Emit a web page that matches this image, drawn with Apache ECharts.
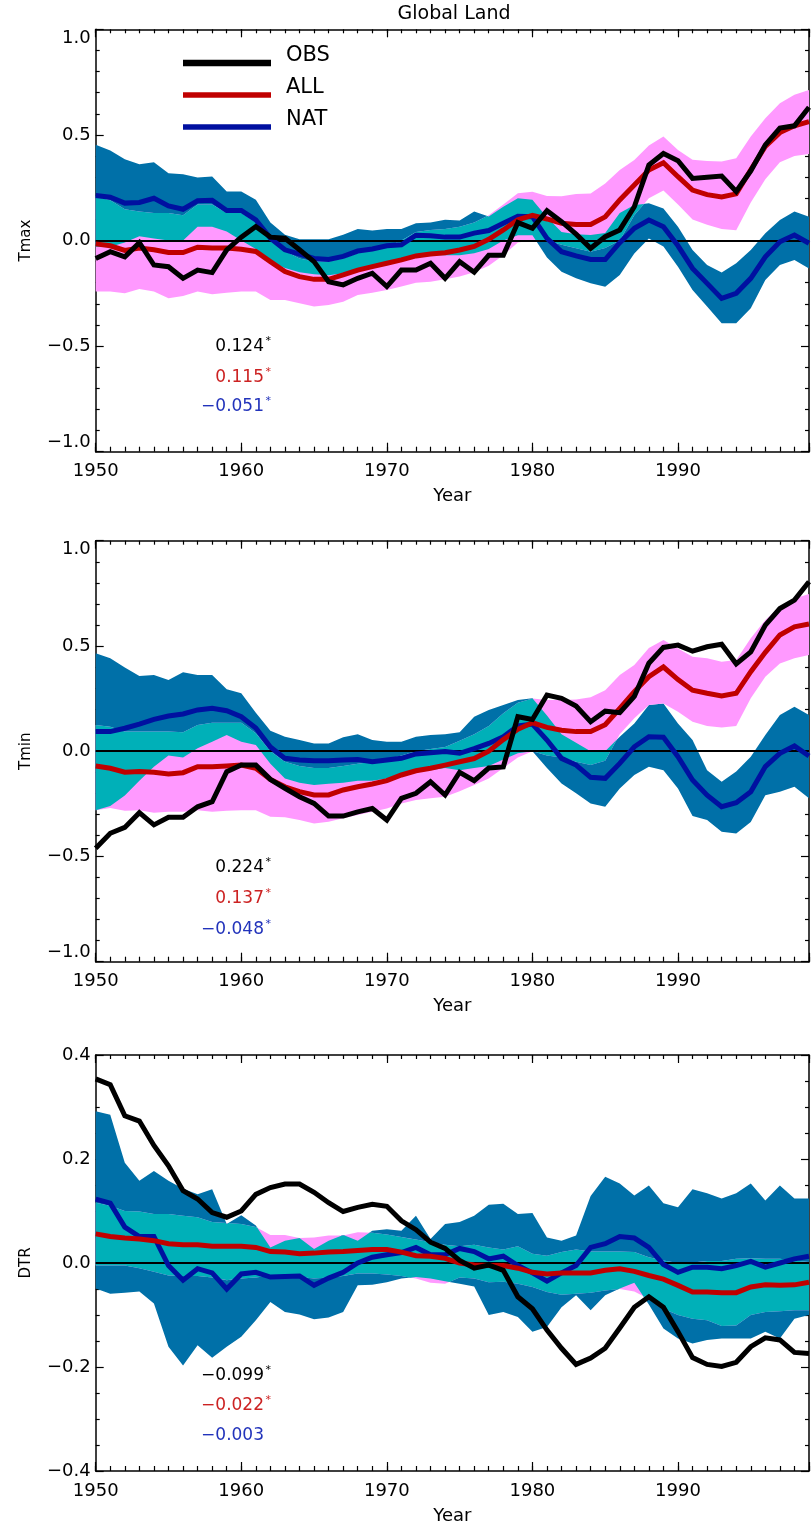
<!DOCTYPE html>
<html>
<head>
<meta charset="utf-8">
<script src="https://cdn.jsdelivr.net/npm/echarts@6/dist/echarts.min.js"></script>
<style>
  html, body { margin: 0; padding: 0; background: #ffffff; }
  #chart { width: 812px; height: 1526px; }
</style>
</head>
<body>
<div id="chart"></div>
<script>
// ---- data: global land anomalies, 1950-1999 ----
const years = [1950,1951,1952,1953,1954,1955,1956,1957,1958,1959,
               1960,1961,1962,1963,1964,1965,1966,1967,1968,1969,
               1970,1971,1972,1973,1974,1975,1976,1977,1978,1979,
               1980,1981,1982,1983,1984,1985,1986,1987,1988,1989,
               1990,1991,1992,1993,1994,1995,1996,1997,1998,1999];

// Tmax
const tmaxObs = [-0.085,-0.053,-0.077,-0.010,-0.116,-0.124,-0.179,-0.140,-0.152,-0.044,
                 0.016,0.066,0.016,0.011,-0.044,-0.100,-0.195,-0.210,-0.179,-0.155,
                 -0.218,-0.140,-0.140,-0.108,-0.179,-0.100,-0.150,-0.070,-0.070,0.085,
                 0.058,0.141,0.089,0.030,-0.037,0.018,0.050,0.160,0.357,0.412,
                 0.378,0.294,0.299,0.305,0.232,0.330,0.453,0.532,0.543,0.631];
const tmaxAll = [-0.016,-0.025,-0.047,-0.036,-0.044,-0.057,-0.057,-0.032,-0.036,-0.036,
                 -0.041,-0.052,-0.100,-0.147,-0.171,-0.184,-0.184,-0.163,-0.140,-0.124,
                 -0.108,-0.092,-0.073,-0.064,-0.058,-0.045,-0.028,0.006,0.050,0.098,
                 0.119,0.102,0.082,0.076,0.076,0.112,0.192,0.263,0.334,0.368,
                 0.302,0.239,0.217,0.206,0.221,0.335,0.445,0.511,0.543,0.563];
const tmaxNat = [0.213,0.205,0.177,0.180,0.200,0.164,0.148,0.188,0.190,0.142,
                 0.142,0.098,0.011,-0.044,-0.065,-0.085,-0.090,-0.075,-0.050,-0.040,
                 -0.025,-0.020,0.025,0.022,0.016,0.016,0.035,0.047,0.082,0.115,
                 0.113,0.010,-0.053,-0.073,-0.090,-0.090,-0.010,0.058,0.097,0.065,
                 -0.025,-0.132,-0.203,-0.274,-0.250,-0.179,-0.077,-0.006,0.026,-0.013];
const tmaxAllLo = [-0.242,-0.242,-0.250,-0.230,-0.242,-0.274,-0.263,-0.242,-0.255,-0.247,
                   -0.242,-0.242,-0.282,-0.282,-0.297,-0.313,-0.305,-0.290,-0.258,-0.247,
                   -0.234,-0.218,-0.200,-0.195,-0.184,-0.170,-0.150,-0.120,-0.070,-0.010,
                   0.000,0.000,-0.020,-0.037,-0.053,-0.035,0.000,0.120,0.200,0.237,
                   0.170,0.100,0.075,0.055,0.048,0.180,0.290,0.370,0.400,0.410];
const tmaxAllHi = [0.208,0.190,0.148,0.137,0.130,0.130,0.120,0.170,0.170,0.130,
                   0.130,0.085,0.020,-0.050,-0.085,-0.100,-0.100,-0.085,-0.060,-0.045,
                   -0.030,0.000,0.040,0.050,0.055,0.065,0.085,0.120,0.170,0.224,
                   0.231,0.211,0.210,0.220,0.223,0.270,0.334,0.381,0.450,0.492,
                   0.429,0.382,0.377,0.374,0.390,0.492,0.579,0.650,0.690,0.713];
const tmaxNatLo = [-0.030,-0.030,-0.010,0.020,0.010,0.000,0.000,0.065,0.065,0.043,
                   0.000,-0.040,-0.100,-0.130,-0.150,-0.160,-0.165,-0.155,-0.135,-0.120,
                   -0.110,-0.100,-0.080,-0.070,-0.070,-0.070,-0.060,-0.040,0.000,0.025,
                   0.025,-0.080,-0.148,-0.179,-0.203,-0.219,-0.163,-0.061,0.010,-0.029,
                   -0.124,-0.234,-0.313,-0.392,-0.392,-0.321,-0.187,-0.116,-0.092,-0.132];
const tmaxNatHi = [0.453,0.426,0.385,0.361,0.371,0.319,0.314,0.298,0.303,0.232,
                   0.232,0.193,0.085,0.027,0.006,0.006,0.006,0.027,0.054,0.047,
                   0.054,0.054,0.082,0.085,0.098,0.095,0.137,0.114,0.160,0.200,
                   0.193,0.110,0.040,0.030,0.026,0.035,0.130,0.168,0.176,0.152,
                   0.065,-0.045,-0.116,-0.152,-0.108,-0.045,0.034,0.097,0.137,0.113];

// Tmin
const tminObs = [-0.461,-0.390,-0.362,-0.292,-0.350,-0.314,-0.314,-0.264,-0.240,-0.097,
                 -0.066,-0.066,-0.134,-0.176,-0.216,-0.248,-0.308,-0.308,-0.288,-0.272,
                 -0.327,-0.224,-0.200,-0.145,-0.208,-0.100,-0.140,-0.080,-0.075,0.164,
                 0.151,0.267,0.251,0.215,0.140,0.190,0.183,0.260,0.418,0.493,
                 0.504,0.475,0.496,0.508,0.415,0.472,0.599,0.678,0.718,0.805];
const tminAll = [-0.070,-0.081,-0.100,-0.097,-0.100,-0.108,-0.102,-0.074,-0.074,-0.070,
                 -0.066,-0.081,-0.134,-0.169,-0.192,-0.208,-0.208,-0.184,-0.169,-0.156,
                 -0.140,-0.113,-0.093,-0.081,-0.066,-0.050,-0.035,0.000,0.055,0.104,
                 0.135,0.113,0.100,0.093,0.093,0.126,0.203,0.283,0.354,0.400,
                 0.340,0.290,0.275,0.263,0.275,0.378,0.470,0.552,0.591,0.604];
const tminNat = [0.093,0.093,0.109,0.129,0.151,0.167,0.177,0.196,0.204,0.192,
                 0.164,0.110,0.020,-0.034,-0.042,-0.045,-0.045,-0.042,-0.039,-0.050,
                 -0.042,-0.034,-0.013,-0.007,-0.002,-0.010,0.012,0.037,0.069,0.120,
                 0.129,0.053,-0.034,-0.066,-0.124,-0.129,-0.058,0.021,0.069,0.066,
                 -0.026,-0.137,-0.209,-0.264,-0.245,-0.193,-0.073,-0.010,0.025,-0.023];
const tminAllLo = [-0.280,-0.270,-0.283,-0.280,-0.292,-0.288,-0.288,-0.280,-0.288,-0.283,
                   -0.280,-0.280,-0.311,-0.314,-0.327,-0.343,-0.335,-0.319,-0.303,-0.288,
                   -0.272,-0.248,-0.232,-0.224,-0.216,-0.190,-0.160,-0.130,-0.080,-0.030,
                   0.000,-0.020,-0.030,-0.050,-0.065,-0.045,0.080,0.156,0.219,0.227,
                   0.188,0.140,0.120,0.113,0.120,0.251,0.354,0.417,0.441,0.457];
const tminAllHi = [0.124,0.116,0.093,0.093,0.093,0.093,0.090,0.124,0.135,0.135,
                   0.135,0.085,0.000,-0.050,-0.070,-0.080,-0.080,-0.070,-0.060,-0.050,
                   -0.040,-0.020,0.000,0.010,0.020,0.050,0.080,0.120,0.180,0.230,
                   0.250,0.243,0.243,0.246,0.256,0.290,0.362,0.410,0.490,0.528,
                   0.488,0.449,0.441,0.425,0.433,0.536,0.623,0.687,0.726,0.747];
const tminNatLo = [-0.280,-0.260,-0.210,-0.140,-0.074,-0.020,-0.030,0.014,0.045,0.077,
                   0.045,0.030,-0.060,-0.130,-0.150,-0.160,-0.155,-0.150,-0.140,-0.140,
                   -0.130,-0.120,-0.100,-0.090,-0.080,-0.090,-0.080,-0.070,-0.040,-0.010,
                   0.000,-0.080,-0.153,-0.200,-0.248,-0.264,-0.177,-0.113,-0.074,-0.090,
                   -0.177,-0.308,-0.327,-0.383,-0.391,-0.336,-0.209,-0.193,-0.169,-0.224];
const tminNatHi = [0.465,0.441,0.398,0.357,0.362,0.338,0.375,0.362,0.362,0.294,
                   0.275,0.183,0.097,0.069,0.053,0.037,0.037,0.066,0.080,0.053,
                   0.045,0.045,0.069,0.077,0.080,0.090,0.164,0.196,0.220,0.243,
                   0.251,0.170,0.080,0.040,0.000,0.000,0.069,0.132,0.219,0.227,
                   0.132,0.053,-0.090,-0.145,-0.097,-0.026,0.077,0.172,0.211,0.172];

// DTR
const dtrObs = [0.354,0.343,0.283,0.273,0.226,0.187,0.139,0.123,0.097,0.088,
                0.100,0.132,0.145,0.152,0.152,0.136,0.116,0.099,0.107,0.113,
                0.109,0.081,0.064,0.040,0.028,0.005,-0.010,-0.004,-0.014,-0.065,
                -0.088,-0.129,-0.164,-0.195,-0.183,-0.164,-0.125,-0.085,-0.065,-0.085,
                -0.132,-0.182,-0.195,-0.199,-0.191,-0.161,-0.144,-0.148,-0.172,-0.174];
const dtrAll = [0.056,0.051,0.048,0.046,0.043,0.037,0.035,0.035,0.032,0.032,
                0.032,0.030,0.022,0.021,0.018,0.019,0.021,0.022,0.024,0.026,
                0.026,0.021,0.014,0.013,0.009,0.000,-0.004,-0.005,-0.005,-0.010,
                -0.018,-0.021,-0.019,-0.019,-0.019,-0.014,-0.011,-0.016,-0.024,-0.031,
                -0.043,-0.056,-0.056,-0.057,-0.057,-0.046,-0.042,-0.043,-0.042,-0.037];
const dtrNat = [0.123,0.115,0.069,0.051,0.051,-0.005,-0.033,-0.011,-0.019,-0.050,
                -0.021,-0.018,-0.027,-0.026,-0.025,-0.043,-0.029,-0.018,0.000,0.011,
                0.016,0.020,0.030,0.016,0.016,0.028,0.022,0.008,0.013,-0.005,
                -0.019,-0.035,-0.019,-0.005,0.030,0.037,0.051,0.048,0.030,-0.003,
                -0.018,-0.008,-0.008,-0.011,-0.005,0.003,-0.008,0.000,0.008,0.013];
const dtrAllLo = [-0.005,-0.005,-0.005,-0.010,-0.017,-0.024,-0.025,-0.025,-0.028,-0.033,
                  -0.030,-0.028,-0.024,-0.024,-0.027,-0.030,-0.028,-0.025,-0.020,-0.020,
                  -0.022,-0.025,-0.030,-0.038,-0.040,-0.028,-0.030,-0.037,-0.036,-0.040,
                  -0.046,-0.056,-0.061,-0.059,-0.057,-0.053,-0.050,-0.055,-0.069,-0.088,
                  -0.100,-0.107,-0.110,-0.121,-0.120,-0.100,-0.094,-0.093,-0.091,-0.091];
const dtrAllHi = [0.116,0.110,0.100,0.099,0.094,0.094,0.091,0.088,0.079,0.077,
                  0.075,0.069,0.054,0.054,0.048,0.049,0.053,0.053,0.059,0.058,
                  0.055,0.050,0.045,0.040,0.035,0.032,0.035,0.030,0.026,0.032,
                  0.018,0.014,0.021,0.026,0.022,0.022,0.022,0.021,0.011,0.005,
                  0.000,0.001,0.004,0.004,0.008,0.009,0.008,0.008,0.005,0.002];
const dtrNatLo = [-0.049,-0.059,-0.057,-0.055,-0.078,-0.161,-0.197,-0.158,-0.182,-0.161,
                  -0.142,-0.110,-0.075,-0.094,-0.099,-0.108,-0.105,-0.094,-0.043,-0.042,
                  -0.037,-0.030,-0.027,-0.030,-0.035,-0.040,-0.045,-0.100,-0.094,-0.104,
                  -0.132,-0.123,-0.085,-0.062,-0.091,-0.062,-0.049,-0.038,-0.080,-0.126,
                  -0.145,-0.155,-0.148,-0.145,-0.145,-0.145,-0.132,-0.145,-0.107,-0.100];
const dtrNatHi = [0.292,0.285,0.193,0.158,0.177,0.158,0.143,0.132,0.142,0.075,
                  0.092,0.072,0.030,0.043,0.048,0.027,0.043,0.054,0.043,0.062,
                  0.065,0.062,0.091,0.046,0.075,0.079,0.091,0.112,0.114,0.094,
                  0.096,0.049,0.043,0.053,0.129,0.166,0.153,0.130,0.149,0.115,
                  0.107,0.142,0.134,0.124,0.134,0.153,0.120,0.149,0.124,0.124];

// trend values printed in each panel (OBS, ALL, NAT) and whether they are significant
const tmaxTrendText = ['0.124', '0.115', '\u22120.051'];
const tmaxTrendSig  = [true, true, true];
const tminTrendText = ['0.224', '0.137', '\u22120.048'];
const tminTrendSig  = [true, true, true];
const dtrTrendText  = ['\u22120.099', '\u22120.022', '\u22120.003'];
const dtrTrendSig   = [true, true, false];

const seriesNames = ['OBS', 'ALL', 'NAT'];

// ---- styling ----
const FONT = '"DejaVu Sans", sans-serif';
const LINE_COLORS = ['#000000', '#c00000', '#0010a0'];
const TEXT_COLORS = ['#000000', '#cc2222', '#2233bb'];
const NAT_BAND = '#0070a8';
const ALL_BAND = '#ff99ff';
const BOTH_BAND = '#00b0b8';

const panels = [
  { label: 'Tmax', obs: tmaxObs, all: tmaxAll, nat: tmaxNat,
    allLo: tmaxAllLo, allHi: tmaxAllHi, natLo: tmaxNatLo, natHi: tmaxNatHi,
    trendText: tmaxTrendText, trendSig: tmaxTrendSig,
    yMin: -1, yMax: 1, yStep: 0.5, ySplit: 5, endLabelsInside: true,
    top: 29.3, height: 422.4, trendY: [347, 377.7, 406.7] },
  { label: 'Tmin', obs: tminObs, all: tminAll, nat: tminNat,
    allLo: tminAllLo, allHi: tminAllHi, natLo: tminNatLo, natHi: tminNatHi,
    trendText: tminTrendText, trendSig: tminTrendSig,
    yMin: -1, yMax: 1, yStep: 0.5, ySplit: 5, endLabelsInside: true,
    top: 540.7, height: 421, trendY: [868, 899, 930] },
  { label: 'DTR', obs: dtrObs, all: dtrAll, nat: dtrNat,
    allLo: dtrAllLo, allHi: dtrAllHi, natLo: dtrNatLo, natHi: dtrNatHi,
    trendText: dtrTrendText, trendSig: dtrTrendSig,
    yMin: -0.4, yMax: 0.4, yStep: 0.2, ySplit: 4, endLabelsInside: false,
    top: 1055, height: 418.3, trendY: [1376, 1406, 1436] }
];

const pairs = arr => years.map((y, i) => [y, arr[i]]);
const fmtY = v => (Math.abs(v) < 1e-9 ? 0 : v).toFixed(1).replace('-', '\u2212');

// Outline of the region shared by two envelopes, split at every crossing
function sharedOutline(aLo, aHi, bLo, bHi) {
  const top = [], bottom = [];
  const edges = [aLo, aHi, bLo, bHi];
  const n = years.length;
  for (let i = 0; i < n; i++) {
    const ts = [0];
    if (i < n - 1) {
      for (let p = 0; p < 4; p++) {
        for (let q = p + 1; q < 4; q++) {
          const d0 = edges[p][i] - edges[q][i];
          const d1 = edges[p][i + 1] - edges[q][i + 1];
          if (d0 * d1 < 0) ts.push(d0 / (d0 - d1));
        }
      }
    }
    ts.sort((a, b) => a - b);
    for (const t of ts) {
      const at = arr => (i < n - 1 ? arr[i] + (arr[i + 1] - arr[i]) * t : arr[i]);
      const x = i < n - 1 ? years[i] + (years[i + 1] - years[i]) * t : years[i];
      const hi = Math.min(at(aHi), at(bHi));
      const lo = Math.max(at(aLo), at(bLo));
      top.push([x, hi]);
      bottom.push([x, Math.min(lo, hi)]);
    }
  }
  return { top, bottom };
}

function bandSeries(p, upper, lower, color, z) {
  return {
    type: 'custom', xAxisIndex: p * 4, yAxisIndex: p * 2,
    coordinateSystem: 'cartesian2d', silent: true, clip: true, z: z,
    data: [[years[0], 0]],
    renderItem: (params, api) => {
      const pts = upper.map(d => api.coord(d));
      for (let i = lower.length - 1; i >= 0; i--) pts.push(api.coord(lower[i]));
      return { type: 'polygon', shape: { points: pts }, style: { fill: color } };
    }
  };
}

const grids = [], xAxes = [], yAxes = [], series = [], graphics = [];

panels.forEach((pn, p) => {
  grids.push({ left: 95.7, right: 0.3, top: pn.top, height: pn.height, containLabel: false });

  const xBase = { gridIndex: p, type: 'value', min: 1950, max: 1999, splitLine: { show: false } };
  const tickStyle = { color: '#000', width: 1.2 };
  xAxes.push(Object.assign({}, xBase, {
    position: 'bottom', interval: 10,
    axisLine: { show: true, onZero: false, lineStyle: { color: '#000', width: 1.5 } },
    axisTick: { show: true, inside: true, length: 9, lineStyle: tickStyle },
    axisLabel: { show: true, margin: 11, color: '#000', fontSize: 18, fontFamily: FONT,
                 formatter: v => (v % 10 === 0 ? String(v) : '') },
    name: 'Year', nameLocation: 'middle', nameGap: 36,
    nameTextStyle: { color: '#000', fontSize: 18, fontFamily: FONT }
  }));
  xAxes.push(Object.assign({}, xBase, {
    position: 'bottom', interval: 1,
    axisLine: { show: false, onZero: false },
    axisTick: { show: true, inside: true, length: 5, lineStyle: tickStyle },
    axisLabel: { show: false }
  }));
  xAxes.push(Object.assign({}, xBase, {
    position: 'top', interval: 10,
    axisLine: { show: true, onZero: false, lineStyle: { color: '#000', width: 1.5 } },
    axisTick: { show: true, inside: true, length: 8, lineStyle: tickStyle },
    axisLabel: { show: false }
  }));
  xAxes.push(Object.assign({}, xBase, {
    position: 'top', interval: 1,
    axisLine: { show: false, onZero: false },
    axisTick: { show: true, inside: true, length: 4, lineStyle: tickStyle },
    axisLabel: { show: false }
  }));

  const yBase = { gridIndex: p, type: 'value', min: pn.yMin, max: pn.yMax, interval: pn.yStep,
                  splitLine: { show: false }, minorSplitLine: { show: false } };
  const yLabel = { show: true, margin: 5, color: '#000', fontSize: 18, fontFamily: FONT, formatter: fmtY };
  if (pn.endLabelsInside) {
    yLabel.verticalAlignMinLabel = 'bottom';
    yLabel.verticalAlignMaxLabel = 'top';
  }
  yAxes.push(Object.assign({}, yBase, {
    position: 'left',
    axisLine: { show: true, onZero: false, lineStyle: { color: '#000', width: 1.5 } },
    axisTick: { show: true, inside: true, length: 8, lineStyle: tickStyle },
    minorTick: { show: true, splitNumber: pn.ySplit, length: 4, lineStyle: tickStyle },
    axisLabel: yLabel,
    name: pn.label, nameLocation: 'middle', nameGap: 62, nameRotate: 90,
    nameTextStyle: { color: '#000', fontSize: 15, fontFamily: FONT }
  }));
  yAxes.push(Object.assign({}, yBase, {
    position: 'right',
    axisLine: { show: true, onZero: false, lineStyle: { color: '#000', width: 1.5 } },
    axisTick: { show: true, inside: true, length: 8, lineStyle: tickStyle },
    minorTick: { show: true, splitNumber: pn.ySplit, length: 4, lineStyle: tickStyle },
    axisLabel: { show: false }
  }));

  // envelopes: natural-only, all-forcing, and their overlap
  series.push(bandSeries(p, pairs(pn.natHi), pairs(pn.natLo), NAT_BAND, 1));
  series.push(bandSeries(p, pairs(pn.allHi), pairs(pn.allLo), ALL_BAND, 1));
  const shared = sharedOutline(pn.allLo, pn.allHi, pn.natLo, pn.natHi);
  const sharedBand = bandSeries(p, shared.top, shared.bottom, BOTH_BAND, 1);
  sharedBand.markLine = {
    silent: true, symbol: ['none', 'none'], z: 2, animation: false,
    label: { show: false },
    lineStyle: { color: '#000', width: 2, type: 'solid' },
    data: [{ yAxis: 0 }]
  };
  series.push(sharedBand);

  // model means and observations
  [pn.nat, pn.all, pn.obs].forEach((arr, k) => {
    const idx = 2 - k;
    series.push({
      type: 'line', name: seriesNames[idx], xAxisIndex: p * 4, yAxisIndex: p * 2,
      data: pairs(arr), showSymbol: false, symbol: 'none', z: 3 + k,
      lineStyle: { color: LINE_COLORS[idx], width: 5, join: 'miter', miterLimit: 4 },
      itemStyle: { color: LINE_COLORS[idx] }
    });
  });

  // trend numbers
  pn.trendText.forEach((t, k) => {
    graphics.push({ type: 'text', x: 264, y: pn.trendY[k], z: 10,
      style: { text: t, fill: TEXT_COLORS[k], font: '17px ' + FONT, align: 'right', verticalAlign: 'middle' } });
    if (pn.trendSig[k]) {
      graphics.push({ type: 'text', x: 265.5, y: pn.trendY[k] - 6, z: 10,
        style: { text: '*', fill: TEXT_COLORS[k], font: '11px ' + FONT, align: 'left', verticalAlign: 'middle' } });
    }
  });
});

// title
graphics.push({ type: 'text', x: 454, y: 14, z: 10,
  style: { text: 'Global Land', fill: '#000', font: '19px ' + FONT, align: 'center', verticalAlign: 'middle' } });

// key
const keyY = [63, 95, 127];
const keyW = [6.5, 5.3, 5.3];
seriesNames.forEach((nm, k) => {
  graphics.push({ type: 'line', z: 10, shape: { x1: 183, y1: keyY[k], x2: 271, y2: keyY[k] },
    style: { stroke: LINE_COLORS[k], lineWidth: keyW[k] } });
  graphics.push({ type: 'text', x: 286, y: keyY[k] - 7, z: 10,
    style: { text: nm, fill: '#000', font: '21px ' + FONT, align: 'left', verticalAlign: 'middle' } });
});

const chart = echarts.init(document.getElementById('chart'), null, { renderer: 'canvas' });
chart.setOption({
  animation: false,
  backgroundColor: '#ffffff',
  grid: grids,
  xAxis: xAxes,
  yAxis: yAxes,
  series: series,
  graphic: graphics
});
</script>
</body>
</html>
